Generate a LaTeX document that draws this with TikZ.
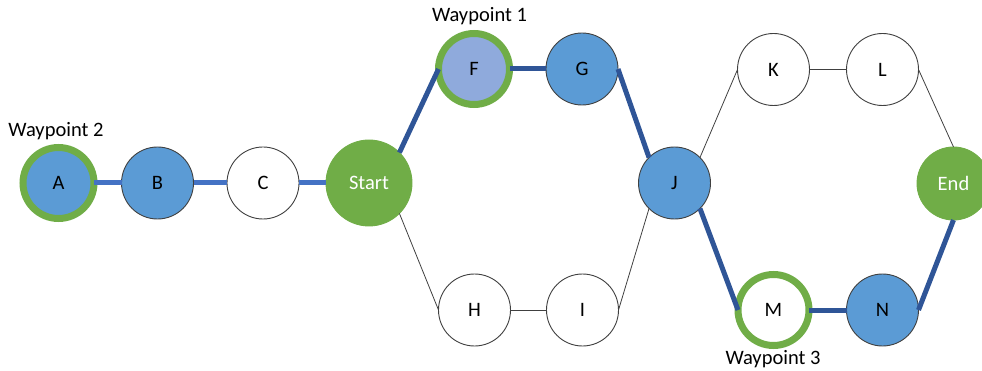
\documentclass[tikz,border=0pt]{standalone}
\usepackage{fontspec}
\setmainfont{Carlito}
\definecolor{nodeblue}{HTML}{5B9BD5}
\definecolor{paleblue}{HTML}{8FAADC}
\definecolor{pathgreen}{HTML}{70AD47}
\definecolor{routeblue}{HTML}{2F5597}
\definecolor{leadblue}{HTML}{4472C4}
\definecolor{rim}{HTML}{404040}
\tikzset{
  vertex/.style={circle, draw=rim, line width=0.9pt, minimum size=72pt, inner sep=0pt, outer sep=0pt, font=\fontsize{20.5}{24}\selectfont},
  plain/.style={vertex, fill=white},
  filled/.style={vertex, fill=nodeblue},
  ringed/.style={vertex, draw=pathgreen, line width=7pt, minimum size=71pt},
  terminal/.style={vertex, draw=pathgreen, fill=pathgreen, text=white},
  route/.style={draw=routeblue, line width=5pt},
  lead/.style={draw=leadblue, line width=5pt},
  branch/.style={draw=rim, line width=0.8pt},
  tag/.style={font=\fontsize{20.5}{24}\selectfont, inner sep=0pt}
}
\begin{document}
\begin{tikzpicture}[x=1pt, y=-1pt]
\useasboundingbox (0,0) rectangle (982,371);

% left lead-in chain
\node[ringed, fill=nodeblue] (A) at (58.5,183) {A};
\node[filled] (B) at (157.5,183) {B};
\node[plain] (C) at (263,183) {C};
\node[terminal, minimum size=86pt] (Start) at (369,183) {Start};

% upper and lower branches
\node[ringed, fill=paleblue] (F) at (474,69) {F};
\node[filled] (G) at (582,69) {G};
\node[plain] (H) at (474.5,310) {H};
\node[plain] (I) at (582.5,310) {I};
\node[filled] (J) at (674.5,183) {J};
\node[plain] (K) at (773.5,69.5) {K};
\node[plain] (L) at (882.5,69.5) {L};
\node[ringed, fill=white] (M) at (773.5,310) {M};
\node[filled] (N) at (882.5,310) {N};
\node[terminal, minimum size=73pt] (End) at (953.5,183.5) {End};

% waypoint captions
\node[tag] (w1) at (479.5,16) {Waypoint 1};
\node[tag] (w2) at (56,131) {Waypoint 2};
\node[tag] (w3) at (773,359) {Waypoint 3};

% thin alternative routes
\draw[branch] (Start.south east) -- (H.west);
\draw[branch] (H.east) -- (I.west);
\draw[branch] (I.east) -- (J.south west);
\draw[branch] (J.north east) -- (K.west);
\draw[branch] (K.east) -- (L.west);
\draw[branch] (L.east) -- (End.north);

% highlighted route
\draw[lead] (A.east) -- (B.west);
\draw[lead] (B.east) -- (C.west);
\draw[lead] (C.east) -- (Start.west);
\draw[route] (Start.north east) -- (F.west);
\draw[route] (F.east) -- (G.west);
\draw[route] (G.east) -- (J.north west);
\draw[route] (J.south east) -- (M.west);
\draw[route] (M.east) -- (N.west);
\draw[route] (N.east) -- (End.south);
\end{tikzpicture}
\end{document}
